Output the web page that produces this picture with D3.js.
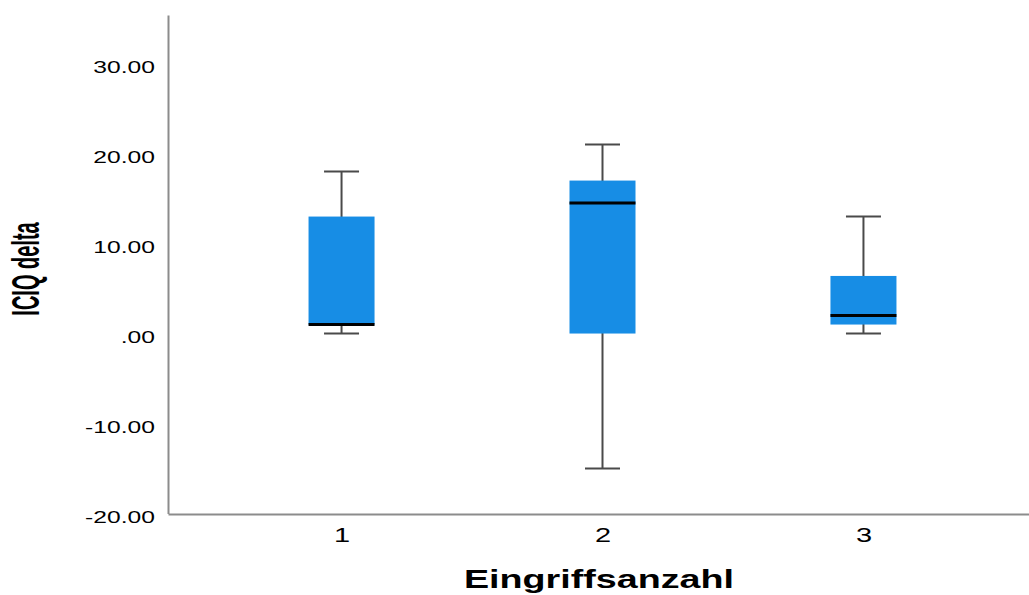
<!DOCTYPE html>
<html>
<head>
<meta charset="utf-8">
<script src="https://cdn.jsdelivr.net/npm/d3@7"></script>
<style>
  body { margin: 0; background: #fff; }
  text { font-family: "Liberation Sans", Arial, sans-serif; fill: #000; }
</style>
</head>
<body>
<div id="chart"></div>
<script>
// boxplot values per group
var groups = ["1", "2", "3"];
var whiskerLow = [0, -15, 0];
var q1 = [1, 0, 1];
var median = [1, 14.5, 2];
var q3 = [13, 17, 6.4];
var whiskerHigh = [18, 21, 13];
var yTicks = [-20, -10, 0, 10, 20, 30];

var W = 1029, H = 595,
    stretch = 1.45,   // the source picture is widened horizontally
    boxW = 66, capW = 35;

var svg = d3.select("#chart").append("svg")
    .attr("width", W)
    .attr("height", H);

var yScale = d3.scaleLinear().domain([-20, 35.4]).range([513.5, 15]),
    xScale = d3.scalePoint().domain(groups).range([168, 1037]).padding(0.665);

var data = groups.map(function (g, i) {
    return {g: g, lo: whiskerLow[i], q1: q1[i], med: median[i], q3: q3[i], hi: whiskerHigh[i]};
});

function fmt(v) {
    if (v === 0) return ".00";
    return d3.format(".2f")(v).replace("−", "-");
}

// y axis
var yAxis = d3.axisLeft(yScale)
    .tickValues(yTicks)
    .tickFormat(fmt)
    .tickSizeInner(0).tickSizeOuter(0)
    .tickPadding(9);

var gy = svg.append("g")
    .attr("transform", "translate(168,0)")
    .call(yAxis);
gy.select(".domain").attr("stroke", "#8c8c8c").attr("stroke-width", 2);
gy.selectAll(".tick text")
    .attr("font-size", 17)
    .attr("dy", 9)
    .attr("fill", "#000")
    .attr("transform", "scale(" + stretch + ",1)");

// x axis
var xAxis = d3.axisBottom(xScale)
    .tickSizeInner(0).tickSizeOuter(0);

var gx = svg.append("g")
    .attr("transform", "translate(0,514)")
    .call(xAxis);
gx.select(".domain").attr("stroke", "#8c8c8c").attr("stroke-width", 2);
gx.selectAll(".tick text")
    .attr("font-size", 20)
    .attr("y", 28)
    .attr("dy", 0)
    .attr("fill", "#222")
    .attr("transform", "scale(" + stretch + ",1)");

// boxes
var box = svg.selectAll(".box")
    .data(data)
    .enter().append("g")
    .attr("class", "box");

box.append("line")
    .attr("x1", function (d) { return xScale(d.g); })
    .attr("x2", function (d) { return xScale(d.g); })
    .attr("y1", function (d) { return yScale(d.lo); })
    .attr("y2", function (d) { return yScale(d.hi); })
    .attr("stroke", "#4a4a4a").attr("stroke-width", 2);

box.selectAll(".cap")
    .data(function (d) { return [{g: d.g, v: d.lo}, {g: d.g, v: d.hi}]; })
    .enter().append("line")
    .attr("class", "cap")
    .attr("x1", function (d) { return xScale(d.g) - capW / 2; })
    .attr("x2", function (d) { return xScale(d.g) + capW / 2; })
    .attr("y1", function (d) { return yScale(d.v); })
    .attr("y2", function (d) { return yScale(d.v); })
    .attr("stroke", "#4a4a4a").attr("stroke-width", 2);

box.append("rect")
    .attr("x", function (d) { return xScale(d.g) - boxW / 2; })
    .attr("width", boxW)
    .attr("y", function (d) { return yScale(d.q3); })
    .attr("height", function (d) { return yScale(d.q1) - yScale(d.q3); })
    .attr("fill", "#178de5");

box.append("line")
    .attr("x1", function (d) { return xScale(d.g) - boxW / 2; })
    .attr("x2", function (d) { return xScale(d.g) + boxW / 2; })
    .attr("y1", function (d) { return yScale(d.med); })
    .attr("y2", function (d) { return yScale(d.med); })
    .attr("stroke", "#000").attr("stroke-width", 3);

// axis titles
svg.append("text")
    .attr("transform", "translate(599,588) scale(" + stretch + ",1)")
    .attr("text-anchor", "middle")
    .attr("font-size", 26)
    .attr("font-weight", "bold")
    .text("Eingriffsanzahl");

svg.append("text")
    .attr("transform", "translate(39,269) scale(1.9,1) rotate(-90)")
    .attr("text-anchor", "middle")
    .attr("font-size", 20)
    .attr("font-weight", "bold")
    .text("ICIQ delta");
</script>
</body>
</html>
